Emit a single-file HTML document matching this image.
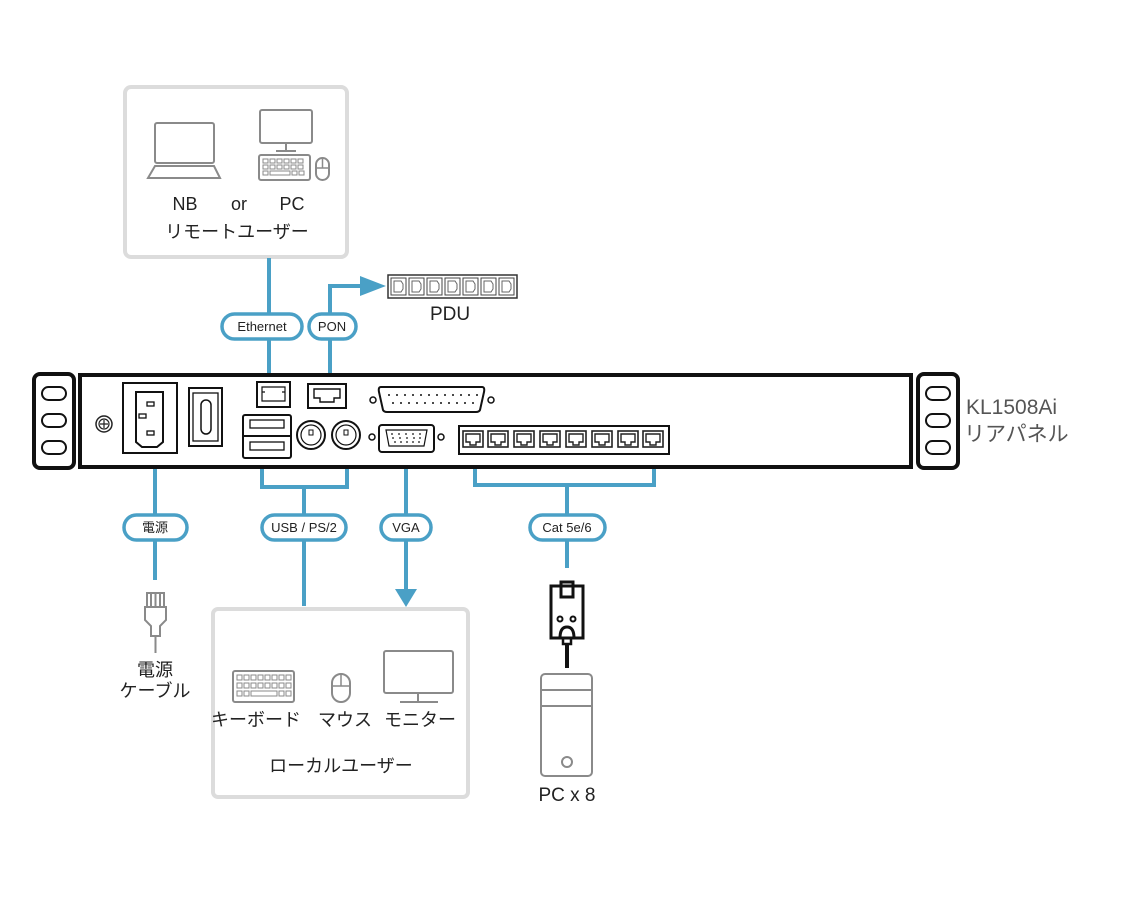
<!DOCTYPE html>
<html><head><meta charset="utf-8"><style>
html,body{margin:0;padding:0;background:#fff;}
svg{display:block;}
text{font-family:"Liberation Sans","Noto Sans CJK JP",sans-serif;}
</style></head><body>
<svg width="1140" height="917" viewBox="0 0 1140 917" xmlns="http://www.w3.org/2000/svg">
<defs>
  <g id="rj">
    <rect x="0" y="0" width="20" height="16" fill="none" stroke="#222" stroke-width="1.6"/>
    <path d="M3 3 H17 V11 H13 V14 H7 V11 H3 Z" fill="none" stroke="#222" stroke-width="1.4"/>
  </g>
  <g id="outlet">
    <rect x="0" y="0" width="15" height="17" fill="none" stroke="#444" stroke-width="1"/>
    <path d="M3 3 H10 L12 6 V11 L10 14 H3 Z" fill="none" stroke="#666" stroke-width="1"/>
  </g>
  <g id="ear">
    <rect x="0" y="0" width="40" height="94" rx="6" fill="none" stroke="#111" stroke-width="4"/>
    <rect x="8" y="13" width="24" height="13" rx="6.5" fill="none" stroke="#111" stroke-width="2"/>
    <rect x="8" y="40" width="24" height="13" rx="6.5" fill="none" stroke="#111" stroke-width="2"/>
    <rect x="8" y="67" width="24" height="13" rx="6.5" fill="none" stroke="#111" stroke-width="2"/>
  </g>
</defs>

<!-- top remote user box -->
<rect x="125" y="87" width="222" height="170" rx="6" fill="#fff" stroke="#dcdcdc" stroke-width="4"/>
<!-- laptop -->
<rect x="155" y="123" width="59" height="40" rx="2" fill="none" stroke="#8a8a8a" stroke-width="2"/>
<path d="M155 166 H214 L220 178 H148 Z" fill="none" stroke="#8a8a8a" stroke-width="2"/>
<!-- PC -->
<rect x="260" y="110" width="52" height="33" rx="2" fill="none" stroke="#8a8a8a" stroke-width="2"/>
<path d="M286 143 V151 M276 151 H296" stroke="#8a8a8a" stroke-width="2"/>
<rect x="259" y="155" width="51" height="25" rx="2" fill="none" stroke="#8a8a8a" stroke-width="2"/>
<g fill="none" stroke="#8a8a8a" stroke-width="1">
<rect x="263" y="159" width="5" height="4"/><rect x="270" y="159" width="5" height="4"/><rect x="277" y="159" width="5" height="4"/><rect x="284" y="159" width="5" height="4"/><rect x="291" y="159" width="5" height="4"/><rect x="298" y="159" width="5" height="4"/>
<rect x="263" y="165" width="5" height="4"/><rect x="270" y="165" width="5" height="4"/><rect x="277" y="165" width="5" height="4"/><rect x="284" y="165" width="5" height="4"/><rect x="291" y="165" width="5" height="4"/><rect x="298" y="165" width="5" height="4"/>
<rect x="263" y="171" width="5" height="4"/><rect x="270" y="171" width="20" height="4"/><rect x="292" y="171" width="5" height="4"/><rect x="299" y="171" width="5" height="4"/>
</g>
<rect x="316" y="158" width="13" height="22" rx="6.5" fill="none" stroke="#8a8a8a" stroke-width="2"/>
<path d="M316 168 H329 M322.5 158 V168" stroke="#8a8a8a" stroke-width="1.5"/>
<text x="185" y="210" font-size="18" text-anchor="middle" fill="#222">NB</text>
<text x="239" y="210" font-size="18" text-anchor="middle" fill="#222">or</text>
<text x="292" y="210" font-size="18" text-anchor="middle" fill="#222">PC</text>
<text x="237" y="238" font-size="18" text-anchor="middle" fill="#222">リモートユーザー</text>

<!-- connectors blue -->
<g stroke="#4aa0c6" stroke-width="4" fill="none">
  <path d="M269 258 V382"/>
  <path d="M330 384 V286 H362"/>
  <path d="M155 454 V580"/>
  <path d="M262 458 V487 H347 V452"/>
  <path d="M304 487 V606"/>
  <path d="M406 452 V590"/>
  <path d="M475 454 V485 H654 V454"/>
  <path d="M567 485 V568"/>
</g>
<path d="M360 276 L386 286 L360 296 Z" fill="#4aa0c6"/>
<path d="M395 589 L406 607 L417 589 Z" fill="#4aa0c6"/>

<!-- pills -->
<g fill="#fff" stroke="#4aa0c6" stroke-width="3.5">
  <rect x="222" y="314" width="80" height="25" rx="12.5"/>
  <rect x="309" y="314" width="47" height="25" rx="12.5"/>
  <rect x="124" y="515" width="63" height="25" rx="12.5"/>
  <rect x="262" y="515" width="84" height="25" rx="12.5"/>
  <rect x="381" y="515" width="50" height="25" rx="12.5"/>
  <rect x="530" y="515" width="75" height="25" rx="12.5"/>
</g>
<g font-size="13" text-anchor="middle" fill="#222">
  <text x="262" y="331">Ethernet</text>
  <text x="332" y="331">PON</text>
  <text x="155" y="532">電源</text>
  <text x="304" y="532">USB / PS/2</text>
  <text x="406" y="532">VGA</text>
  <text x="567" y="532">Cat 5e/6</text>
</g>

<!-- PDU -->
<rect x="388" y="275" width="129" height="23" fill="#fff" stroke="#333" stroke-width="1.5"/>
<use href="#outlet" x="391" y="278"/><use href="#outlet" x="409" y="278"/><use href="#outlet" x="427" y="278"/><use href="#outlet" x="445" y="278"/><use href="#outlet" x="463" y="278"/><use href="#outlet" x="481" y="278"/><use href="#outlet" x="499" y="278"/>
<text x="450" y="320" font-size="19" text-anchor="middle" fill="#222">PDU</text>

<!-- chassis -->
<use href="#ear" x="34" y="374"/>
<use href="#ear" x="918" y="374"/>
<rect x="80" y="375" width="831" height="92" fill="#fff" stroke="#111" stroke-width="4"/>
<!-- screw -->
<circle cx="104" cy="424" r="8" fill="none" stroke="#222" stroke-width="1.5"/>
<circle cx="104" cy="424" r="5" fill="none" stroke="#222" stroke-width="1.2"/>
<path d="M100 424 H108 M104 420 V428" stroke="#222" stroke-width="1.2"/>
<!-- power inlet -->
<rect x="123" y="383" width="54" height="70" fill="none" stroke="#111" stroke-width="2"/>
<path d="M136 392 H163 V442 L157 447 H142 L136 442 Z" fill="none" stroke="#111" stroke-width="2"/>
<rect x="147" y="402" width="7" height="4" fill="none" stroke="#111" stroke-width="1.3"/>
<rect x="139" y="414" width="7" height="4" fill="none" stroke="#111" stroke-width="1.3"/>
<rect x="147" y="431" width="7" height="4" fill="none" stroke="#111" stroke-width="1.3"/>
<!-- switch -->
<rect x="189" y="388" width="33" height="58" fill="none" stroke="#111" stroke-width="2"/>
<rect x="193" y="393" width="25" height="48" fill="none" stroke="#111" stroke-width="1.3"/>
<rect x="201" y="400" width="10" height="34" rx="5" fill="none" stroke="#111" stroke-width="1.5"/>
<!-- ethernet port -->
<rect x="257" y="382" width="33" height="25" fill="none" stroke="#111" stroke-width="2"/>
<path d="M262 387 H285 V401 H262 Z M262 392 H265 M282 392 H285" fill="none" stroke="#111" stroke-width="1.2"/>
<!-- PON port -->
<rect x="308" y="384" width="38" height="24" fill="none" stroke="#111" stroke-width="2"/>
<path d="M314 389 H340 V398 H334 V402 H320 V398 H314 Z" fill="none" stroke="#111" stroke-width="1.4"/>
<!-- DB25 -->
<circle cx="373" cy="400" r="3" fill="none" stroke="#111" stroke-width="1.5"/>
<circle cx="491" cy="400" r="3" fill="none" stroke="#111" stroke-width="1.5"/>
<path d="M381 387 H482 Q485 387 484 392 L480 410 Q479 412 476 412 H387 Q384 412 383 410 L379 392 Q378 387 381 387 Z" fill="none" stroke="#111" stroke-width="2"/>
<g fill="#111">
<circle cx="389" cy="395" r="1"/><circle cx="397" cy="395" r="1"/><circle cx="405" cy="395" r="1"/><circle cx="413" cy="395" r="1"/><circle cx="421" cy="395" r="1"/><circle cx="429" cy="395" r="1"/><circle cx="437" cy="395" r="1"/><circle cx="445" cy="395" r="1"/><circle cx="453" cy="395" r="1"/><circle cx="461" cy="395" r="1"/><circle cx="469" cy="395" r="1"/><circle cx="477" cy="395" r="1"/>
<circle cx="393" cy="403" r="1"/><circle cx="401" cy="403" r="1"/><circle cx="409" cy="403" r="1"/><circle cx="417" cy="403" r="1"/><circle cx="425" cy="403" r="1"/><circle cx="433" cy="403" r="1"/><circle cx="441" cy="403" r="1"/><circle cx="449" cy="403" r="1"/><circle cx="457" cy="403" r="1"/><circle cx="465" cy="403" r="1"/><circle cx="473" cy="403" r="1"/>
</g>
<!-- USB -->
<rect x="243" y="415" width="48" height="43" rx="2" fill="none" stroke="#111" stroke-width="2"/>
<path d="M243 436 H291" stroke="#111" stroke-width="2"/>
<rect x="250" y="420" width="34" height="8" fill="none" stroke="#111" stroke-width="1.3"/>
<rect x="250" y="442" width="34" height="8" fill="none" stroke="#111" stroke-width="1.3"/>
<!-- PS2 -->
<circle cx="311" cy="435" r="14" fill="none" stroke="#111" stroke-width="2"/>
<circle cx="311" cy="435" r="10" fill="none" stroke="#111" stroke-width="1.2"/>
<rect x="309" y="430" width="4" height="5" fill="none" stroke="#111" stroke-width="1"/>
<circle cx="346" cy="435" r="14" fill="none" stroke="#111" stroke-width="2"/>
<circle cx="346" cy="435" r="10" fill="none" stroke="#111" stroke-width="1.2"/>
<rect x="344" y="430" width="4" height="5" fill="none" stroke="#111" stroke-width="1"/>
<!-- VGA -->
<circle cx="372" cy="437" r="3" fill="none" stroke="#111" stroke-width="1.5"/>
<circle cx="441" cy="437" r="3" fill="none" stroke="#111" stroke-width="1.5"/>
<rect x="379" y="425" width="55" height="27" rx="3" fill="none" stroke="#111" stroke-width="2"/>
<path d="M386 430 H427 L424 446 H389 Z" fill="none" stroke="#111" stroke-width="1.2"/>
<g fill="#111">
<circle cx="392" cy="434" r="0.9"/><circle cx="399" cy="434" r="0.9"/><circle cx="406" cy="434" r="0.9"/><circle cx="413" cy="434" r="0.9"/><circle cx="420" cy="434" r="0.9"/>
<circle cx="393" cy="438" r="0.9"/><circle cx="400" cy="438" r="0.9"/><circle cx="407" cy="438" r="0.9"/><circle cx="414" cy="438" r="0.9"/><circle cx="420" cy="438" r="0.9"/>
<circle cx="395" cy="442" r="0.9"/><circle cx="401" cy="442" r="0.9"/><circle cx="407" cy="442" r="0.9"/><circle cx="413" cy="442" r="0.9"/><circle cx="419" cy="442" r="0.9"/>
</g>
<!-- RJ45 block -->
<rect x="459" y="426" width="210" height="28" fill="none" stroke="#111" stroke-width="2"/>
<use href="#rj" x="463" y="431"/><use href="#rj" x="488" y="431"/><use href="#rj" x="514" y="431"/><use href="#rj" x="540" y="431"/><use href="#rj" x="566" y="431"/><use href="#rj" x="592" y="431"/><use href="#rj" x="618" y="431"/><use href="#rj" x="643" y="431"/>

<text x="966" y="414" font-size="21" fill="#555">KL1508Ai</text>
<text x="964" y="441" font-size="21" fill="#555">リアパネル</text>

<!-- power plug -->
<g fill="none" stroke="#8a8a8a" stroke-width="2">
  <rect x="147" y="593" width="17" height="14"/>
  <path d="M151 593 V607 M155.5 593 V607 M160 593 V607"/>
  <path d="M145 607 H166 V620 L160 626 V636 H151 V626 L145 620 Z"/>
  <path d="M155.5 636 V653"/>
</g>
<text x="155" y="676" font-size="18" text-anchor="middle" fill="#222">電源</text>
<text x="155" y="697" font-size="18" text-anchor="middle" fill="#222">ケーブル</text>

<!-- local user box -->
<rect x="213" y="609" width="255" height="188" rx="5" fill="#fff" stroke="#dcdcdc" stroke-width="4"/>
<rect x="233" y="671" width="61" height="31" rx="2" fill="none" stroke="#8a8a8a" stroke-width="2"/>
<g fill="none" stroke="#8a8a8a" stroke-width="1">
<rect x="237" y="675" width="5" height="5"/><rect x="244" y="675" width="5" height="5"/><rect x="251" y="675" width="5" height="5"/><rect x="258" y="675" width="5" height="5"/><rect x="265" y="675" width="5" height="5"/><rect x="272" y="675" width="5" height="5"/><rect x="279" y="675" width="5" height="5"/><rect x="286" y="675" width="5" height="5"/>
<rect x="237" y="683" width="5" height="5"/><rect x="244" y="683" width="5" height="5"/><rect x="251" y="683" width="5" height="5"/><rect x="258" y="683" width="5" height="5"/><rect x="265" y="683" width="5" height="5"/><rect x="272" y="683" width="5" height="5"/><rect x="279" y="683" width="5" height="5"/><rect x="286" y="683" width="5" height="5"/>
<rect x="237" y="691" width="5" height="5"/><rect x="244" y="691" width="5" height="5"/><rect x="251" y="691" width="26" height="5"/><rect x="279" y="691" width="5" height="5"/><rect x="286" y="691" width="5" height="5"/>
</g>
<rect x="332" y="674" width="18" height="28" rx="9" fill="none" stroke="#8a8a8a" stroke-width="2"/>
<path d="M332 686 H350 M341 674 V686" stroke="#8a8a8a" stroke-width="1.5"/>
<rect x="384" y="651" width="69" height="42" rx="2" fill="none" stroke="#8a8a8a" stroke-width="2"/>
<path d="M418 693 V701 M400 702 H438" stroke="#8a8a8a" stroke-width="2"/>
<text x="256" y="726" font-size="18" text-anchor="middle" fill="#222">キーボード</text>
<text x="345" y="726" font-size="18" text-anchor="middle" fill="#222">マウス</text>
<text x="420" y="726" font-size="18" text-anchor="middle" fill="#222">モニター</text>
<text x="341" y="772" font-size="18" text-anchor="middle" fill="#222">ローカルユーザー</text>

<!-- RJ45 plug -->
<g fill="none" stroke="#111" stroke-width="3">
  <path d="M551 586 H583 V638 H551 Z"/>
  <rect x="561" y="582" width="12" height="15"/>
  <circle cx="560" cy="619" r="2.5" stroke-width="2"/>
  <circle cx="573" cy="619" r="2.5" stroke-width="2"/>
  <path d="M560 638 Q560 627 567 627 Q574 627 574 638"/>
  <rect x="563" y="638" width="8" height="6" stroke-width="2.5"/>
</g>
<path d="M567 644 V668" stroke="#111" stroke-width="4"/>
<!-- PC tower -->
<g fill="none" stroke="#8a8a8a" stroke-width="2">
  <rect x="541" y="674" width="51" height="102" rx="4"/>
  <path d="M541 690 H592 M541 706 H592"/>
  <circle cx="567" cy="762" r="5"/>
</g>
<text x="567" y="801" font-size="19" text-anchor="middle" fill="#222">PC x 8</text>
</svg>
</body></html>
